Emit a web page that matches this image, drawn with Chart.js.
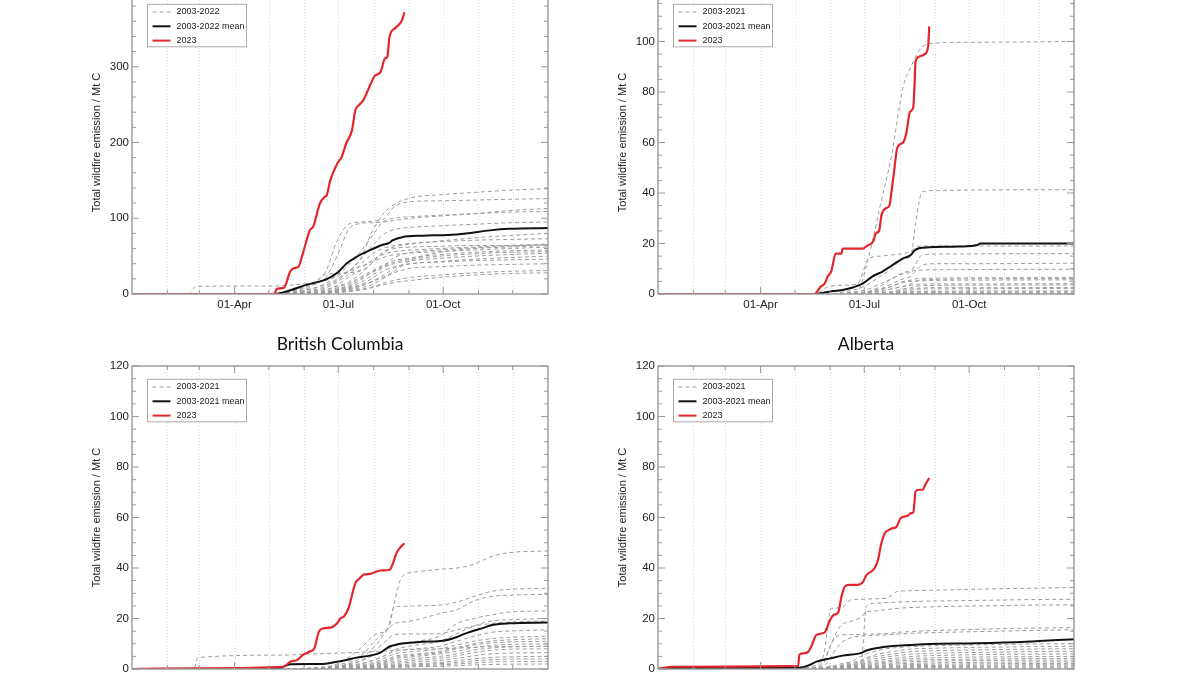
<!DOCTYPE html>
<html>
<head>
<meta charset="utf-8">
<script src="https://cdn.jsdelivr.net/npm/chart.js@4.4.0/dist/chart.umd.min.js"></script>
<style>
html, body { margin: 0; padding: 0; background: #fff; overflow: hidden; width: 1200px; height: 675px; }
canvas { position: absolute; }
</style>
</head>
<body>
<canvas id="cCanada" width="464" height="343" style="left:90px;top:-19px"></canvas>
<canvas id="cNwt" width="464" height="343" style="left:616px;top:-19px"></canvas>
<canvas id="cBc" width="464" height="365" style="left:90px;top:334px"></canvas>
<canvas id="cAb" width="464" height="365" style="left:616px;top:334px"></canvas>
<script>
// day of year (0 = 01-Jan)
const monthStarts = [31, 59, 90, 120, 151, 181, 212, 243, 273, 304, 334];
const xTickDays = [90, 181, 273];
const xTickLabels = ['01-Apr', '01-Jul', '01-Oct'];

//// Canada (top left)
const canRedDays = [0,125,127,133,139,142,146,150,156,159,165,169,171,174,180,184,188,193,196,199,203,209,213,218,222,224,226,231,235,237,239];
const canRed     = [0,0,7,8,30,34,36,54,84,89,120,128,131,150,172,181,199,216,243,249,256,276,288,293,311,313,340,351,357,362,372];
const canMeanDays = [0,126,139,153,168,175,181,188,197,209,220,225,229,237,255,277,293,314,331,365];
const canMean     = [0,0,5,12,18,23,29,40,49,58,65,67,71,75,77,78,80,84,86,87];
const canYearDays = [0,50,56,125,140,155,170,180,190,200,210,220,230,245,270,300,330,365];
const canYears = [
    [0,0,0,0,2,6,12,20,30,45,80,105,118,127,131,134,137,139],
    [0,0,0,1,4,12,30,70,92,95,96,98,115,122,123,124,125,126],
    [0,0,0,1,3,10,22,50,85,93,94,95,97,100,103,106,110,113],
    [0,0,0,0,2,6,14,25,38,55,75,95,100,102,104,106,108,109],
    [0,0,0,0,1,4,10,18,30,45,62,78,85,88,90,92,94,95],
    [0,0,0,0,2,8,26,27,28,30,40,55,62,66,70,74,77,80],
    [0,0,0,0,1,3,8,16,26,38,52,60,64,67,69,71,72,73],
    [0,0,0,0,1,2,5,12,22,32,44,52,56,58,60,62,64,66],
    [0,0,10,10.5,12,14,18,24,30,36,42,48,52,54,56,58,60,62],
    [0,0,0,0,1,2,4,8,14,22,30,38,44,48,52,55,57,58],
    [0,0,0,0,0,1,3,6,10,18,28,36,42,46,50,53,55,56],
    [0,0,0,0,0,1,2,5,9,15,24,34,40,44,47,50,52,54],
    [0,0,0,0,0,1,2,4,8,12,20,30,36,40,43,46,48,50],
    [0,0,0,0,0,1,2,4,6,10,16,24,34,40,42,44,45,46],
    [0,0,0,0,0,0,1,3,5,8,12,20,28,34,36,38,39,40],
    [0,0,0,0,0,0,1,2,4,6,9,14,18,22,25,28,30,31],
    [0,0,0,0,0,0,1,2,3,5,8,12,15,18,22,25,27,28],
    [0,0,0,0,0,1,3,6,12,20,28,36,48,55,58,61,63,65],
    [0,0,0,0,1,3,6,10,16,26,40,54,60,62,63,64,64,65],
    [0,0,0,0,0,1,2,4,7,11,16,22,30,45,55,60,62,64]
];

//// Northwest Territories (top right)
const nwtRedDays = [0,137,143,146,149,152,156,161,162,180,183,189,191,194,196,200,203,205,207,210,215,218,221,224,225,226,229,234,237,238];
const nwtRed     = [0,0,3,4,7,9,16,16,18,18,19,21,24,25,31,34,35,41,48,58,60,64,72,74,82,92,94,95,98,106];
const nwtMeanDays = [0,137,150,162,171,180,188,197,206,215,222,225,229,238,264,280,283,365];
const nwtMean     = [0,0,0.9,1.6,2.6,4.2,6.9,8.9,11.5,14.1,15.5,17.2,18.1,18.5,18.8,19.4,20,20];
const nwtYearDays = [0,137,150,165,175,185,195,205,215,222,226,232,245,280,365];
const nwtYears = [
    [0,0,0,0,1,15,35,55,82,90,94,98,99.4,99.7,100],
    [0,0,0,1,2,4,7,10,14,15,28,40.5,41,41.2,41.3],
    [0,0,3,3.5,4,14,15,15.5,16,17,18.5,19,19,19,19],
    [0,0,0,0.5,1,2,4,6,8,9,12,15.5,15.8,15.9,16],
    [0,0,0,0,0.5,1,2,4,6,7,9,11.5,12,12,12.2],
    [0,0,0,0,0.5,1,3,6,8.5,9,9.3,9.5,9.6,9.7,9.8],
    [0,0,0,0,0,1,2,3,5,5.5,6,6.2,6.3,6.4,6.5],
    [0,0,0,0,0,0.5,1,2,3,4,5,5.6,5.8,6,6.1],
    [0,0,0,0,0,0.5,1.5,3,4.5,5,5.2,5.3,5.4,5.5,5.6],
    [0,0,0,0,0,0.5,1,2,3,3.5,3.8,3.9,4,4,4.1],
    [0,0,0,0,0,0,0.5,1,2,2.5,3,3.3,3.4,3.5,3.6],
    [0,0,0,0,0,0,0.3,0.8,1.5,2,2.2,2.4,2.5,2.5,2.6],
    [0,0,0,0,0,0,0.2,0.5,1,1.5,1.8,2,2,2.1,2.2],
    [0,0,0,0,0,0,0,0.3,0.6,0.9,1,1.1,1.1,1.2,1.2],
    [0,0,0,0,0,0,0,0.2,0.4,0.6,0.7,0.8,0.8,0.8,0.9],
    [0,0,0,0,0,0,0,0.1,0.2,0.3,0.3,0.4,0.4,0.4,0.4],
    [0,0.2,0.2,0.2,0.2,0.2,0.2,0.2,0.3,0.3,0.3,0.3,0.3,0.3,0.3],
    [0,0,0,0,0,0,0,0,0.1,0.1,0.1,0.2,0.2,0.2,0.2],
    [0,0,0,0,0,0,0,0,0,0,0.1,0.1,0.1,0.1,0.1]
];

//// British Columbia (bottom left)
const bcRedDays = [0,60,133,139,145,150,156,160,164,168,175,180,183,186,190,196,199,203,209,218,226,229,232,235,239];
const bcRed     = [0,0.3,0.9,2.9,3.6,5.6,6.9,8.2,14.8,16.1,16.5,18.1,20.1,20.8,24.1,34,35.6,37.3,37.7,39,39.3,41.9,45.9,47.9,49.8];
const bcMeanDays = [0,130,139,168,180,188,197,209,218,226,234,244,255,273,282,293,307,317,331,365];
const bcMean     = [0,0.5,1.9,2,2.9,3.6,4.5,5.3,6.5,8.9,9.9,10.4,10.8,11.2,12.2,14.1,16.1,17.5,18.1,18.4];
const bcYearDays = [0,54,58,130,160,180,200,215,225,230,237,250,270,285,300,315,330,365];
const bcYears = [
    [0,0,0,0,0.5,2,8,14,16,26,36.6,38.5,39.5,40,41.5,44.5,46,46.8],
    [0,0,0,0,0.5,1.5,5,12,17,24.5,24.8,25,25.3,26.5,28.7,30.7,31.5,32],
    [0,0,0,0,0.3,1,4,10,16,18,18.5,19.5,22,23.5,27,28.7,29.2,29.6],
    [0,0,0,0,0.3,1,3,6,8,9,10,11,13,18,20,21.4,22.5,23],
    [0,0,0,0,0.2,1,2,4,6,7.5,8.5,9.5,11,14,17,19,19.5,20],
    [0,0,4.5,5.5,6,6.3,6.6,7,7.2,7.4,7.6,7.8,8,8.3,8.6,8.8,8.9,9],
    [0,0,0,0,0.3,1,3,8,12,13.7,13.8,13.9,14,15.5,17,18,18.6,19],
    [0,0,0,0,0.2,0.8,2,4,6,7,7.5,8,9,11,13,14.5,15,15.5],
    [0,0,0,0,0,0.5,1.5,3,5,6,6.5,7,8,9.5,11,12,12.5,13],
    [0,0,0,0,0,0.5,1,2.5,4,5,5.5,6,7,8.5,10,11,11.5,12],
    [0,0,0,0,0,0.3,1,2,3.5,4.5,5,5.5,6.5,8,9.5,10.3,10.7,11],
    [0,0,0,0,0,0.3,0.8,1.8,3,4,4.5,5,6,7,8.5,9.3,9.7,10],
    [0,0,0,0,0,0.2,0.6,1.5,2.5,3.2,3.7,4.2,5,6,7.5,8.3,8.7,9],
    [0,0,0,0,0,0.2,0.5,1.2,2,2.6,3,3.5,4.2,5.2,6.5,7.4,7.8,8],
    [0,0,0,0,0,0.1,0.4,1,1.6,2,2.4,2.8,3.4,4.2,5.2,6,6.3,6.5],
    [0,0,0,0,0,0.1,0.3,0.7,1.2,1.5,1.8,2.1,2.6,3.3,4,4.6,4.8,5],
    [0,0,0,0,0,0.1,0.2,0.5,0.9,1.2,1.4,1.7,2.1,2.6,3.2,3.7,3.9,4],
    [0,0,0,0,0,0,0.2,0.4,0.7,0.9,1.1,1.3,1.6,2,2.4,2.8,2.9,3],
    [0,0,0,0,0,0,0.1,0.3,0.5,0.6,0.7,0.9,1.1,1.3,1.6,1.8,1.9,2]
];

//// Alberta (bottom right)
const abRedDays = [0,13,123,124,127,132,135,139,146,151,154,158,161,164,168,175,180,183,187,190,193,196,199,202,206,209,213,219,222,224,226,229,232,235,238];
const abRed     = [0,0.9,1.2,5.6,6.2,6.9,9.5,13.5,14.4,19.4,21.4,22.3,28.7,32.7,33.3,33.3,34.6,37.3,38.6,39.9,43.2,49.8,53.8,54.9,55.8,56.2,59.8,60.7,61.7,62,70.3,71,71,73.4,75.6];
const abMeanDays = [0,10,124,133,139,151,162,177,183,191,206,221,238,279,323,365];
const abMean     = [0,0.4,0.5,1.6,2.9,4.2,5.3,6.2,7.3,8.2,9.1,9.5,9.9,10.2,10.8,11.8];
const abYearDays = [0,5,125,135,145,152,160,170,178,183,190,200,210,220,240,270,300,330,365];
const abYears = [
    [0,0.3,0.3,1,5,24,24.2,27.5,27.6,27.7,27.8,28,30.7,31,31.2,31.5,31.8,32,32.3],
    [0,0.3,0.3,0.4,0.6,0.8,1,1.5,2,25,26,26.3,26.5,26.7,26.9,27.1,27.3,27.5,27.6],
    [0,0.2,0.2,0.5,3,10,17,19,20.5,22.7,23,23.5,24,24.3,24.6,24.9,25.1,25.3,25.4],
    [0,0.2,0.2,0.5,2,10,13.5,13.6,13.7,13.8,13.9,14,14.5,14.8,15.2,15.6,16,16.2,16.4],
    [0,0.2,0.2,0.4,1,5,10,12.5,13,13.2,13.4,13.5,13.8,14.1,14.4,14.7,15,15.3,15.5],
    [0,0.2,0.2,0.3,0.5,1,2,3,5,6,7,8,8.5,8.8,9.2,9.5,9.7,9.9,10],
    [0,0.1,0.1,0.2,0.4,0.8,1.5,2.5,3.5,4.5,5.5,6.5,7.2,7.8,8.2,8.5,8.7,8.9,9],
    [0,0.1,0.1,0.2,0.3,0.6,1.2,2,3,4,4.8,5.5,6.2,6.8,7.2,7.5,7.7,7.9,8],
    [0,0.1,0.1,0.2,0.3,0.5,1,1.7,2.5,3.3,4,4.7,5.3,5.8,6.2,6.5,6.7,6.9,7],
    [0,0.1,0.1,0.1,0.2,0.4,0.8,1.4,2,2.7,3.3,3.9,4.4,4.9,5.3,5.6,5.8,5.9,6],
    [0,0.1,0.1,0.1,0.2,0.3,0.6,1.1,1.6,2.2,2.7,3.2,3.7,4.1,4.4,4.7,4.8,4.9,5],
    [0,0,0,0.1,0.1,0.2,0.5,0.9,1.3,1.8,2.2,2.7,3.1,3.4,3.7,3.9,4,4.1,4.2],
    [0,0,0,0.1,0.1,0.2,0.4,0.7,1,1.4,1.8,2.2,2.5,2.8,3.1,3.3,3.4,3.5,3.5],
    [0,0,0,0,0.1,0.2,0.3,0.5,0.8,1.1,1.4,1.7,2,2.2,2.4,2.6,2.7,2.8,2.8],
    [0,0,0,0,0.1,0.1,0.2,0.4,0.6,0.9,1.1,1.3,1.5,1.7,1.9,2,2.1,2.2,2.2],
    [0,0,0,0,0,0.1,0.2,0.3,0.5,0.7,0.8,1,1.2,1.3,1.4,1.5,1.6,1.7,1.7],
    [0,0,0,0,0,0.1,0.1,0.2,0.3,0.5,0.6,0.7,0.8,0.9,1,1.1,1.1,1.2,1.2],
    [0,0,0,0,0,0,0.1,0.1,0.2,0.3,0.4,0.5,0.5,0.6,0.7,0.7,0.8,0.8,0.8],
    [0,0,0,0,0,0,0,0.1,0.1,0.2,0.2,0.3,0.3,0.3,0.4,0.4,0.4,0.4,0.4]
];

const legend2022 = ['2003-2022', '2003-2022 mean', '2023'];
const legend2021 = ['2003-2021', '2003-2021 mean', '2023'];

const RED = '#e2262b', BLACK = '#111111', GREY = '#9c9c9c';
const FONT = "'Liberation Sans', Arial, Helvetica, sans-serif";

function toPoints(days, vals) {
    return days.map((d, i) => ({x: d, y: vals[i]}));
}

// frame, inward ticks, month grid and boxed legend drawn on the chart area
const frameTicks = {
    id: 'frameTicks',
    beforeDatasetsDraw(chart) {
        const {ctx, chartArea: a} = chart;
        const x = chart.scales.x;
        ctx.save();
        ctx.strokeStyle = '#dadada';
        ctx.lineWidth = 1;
        ctx.setLineDash([1, 2]);
        for (let d of monthStarts) {
            let px = Math.round(x.getPixelForValue(d)) + 0.5;
            ctx.beginPath(); ctx.moveTo(px, a.top); ctx.lineTo(px, a.bottom); ctx.stroke();
        }
        ctx.restore();
    },
    afterDatasetsDraw(chart, args, opts) {
        const {ctx, chartArea: a} = chart;
        const x = chart.scales.x, y = chart.scales.y;
        ctx.save();
        ctx.strokeStyle = '#999';
        ctx.lineWidth = 1.4;
        ctx.setLineDash([]);
        ctx.strokeRect(a.left, a.top, a.right - a.left, a.bottom - a.top);
        ctx.lineWidth = 1;
        for (let v = 0; v <= y.max; v += opts.yMinor) {
            let py = y.getPixelForValue(v);
            let len = (v % opts.yMajor == 0) ? 7 : 4;
            ctx.beginPath();
            ctx.moveTo(a.left, py); ctx.lineTo(a.left + len, py);
            ctx.moveTo(a.right, py); ctx.lineTo(a.right - len, py);
            ctx.stroke();
        }
        for (let d of monthStarts) {
            let px = x.getPixelForValue(d);
            let len = xTickDays.includes(d) ? 7 : 4;
            ctx.beginPath();
            ctx.moveTo(px, a.bottom); ctx.lineTo(px, a.bottom - len);
            ctx.moveTo(px, a.top); ctx.lineTo(px, a.top + len);
            ctx.stroke();
        }

        // legend box
        const lx = a.left + 15.5, ly = a.top + 13.3;
        ctx.fillStyle = '#fff';
        ctx.fillRect(lx, ly, 99, 42.5);
        ctx.strokeStyle = '#aaa';
        ctx.lineWidth = 1;
        ctx.strokeRect(lx, ly, 99, 42.5);
        const styles = [[GREY, 1, [4, 3]], [BLACK, 2, []], [RED, 2, []]];
        ctx.font = '9px ' + FONT;
        ctx.textBaseline = 'middle';
        for (let i = 0; i < 3; i++) {
            let ry = ly + 7.7 + i * 14.3;
            ctx.strokeStyle = styles[i][0];
            ctx.lineWidth = styles[i][1];
            ctx.setLineDash(styles[i][2]);
            ctx.beginPath(); ctx.moveTo(lx + 5, ry); ctx.lineTo(lx + 23, ry); ctx.stroke();
            ctx.fillStyle = '#222';
            ctx.fillText(opts.labels[i], lx + 29, ry);
        }
        ctx.restore();
    }
};

function makePanel(id, p) {
    let datasets = [];
    datasets.push({data: toPoints(p.redDays, p.red), borderColor: RED, borderWidth: 2.2});
    datasets.push({data: toPoints(p.meanDays, p.mean), borderColor: BLACK, borderWidth: 2});
    for (let yr of p.years) {
        datasets.push({data: toPoints(p.yearDays, yr), borderColor: GREY, borderWidth: 1, borderDash: [4, 3]});
    }

    new Chart(document.getElementById(id), {
        type: 'line',
        data: {datasets: datasets},
        options: {
            responsive: false,
            animation: false,
            layout: {padding: {top: p.title ? 0 : 10, right: 6, left: 0, bottom: 0}},
            elements: {
                point: {radius: 0},
                line: {cubicInterpolationMode: 'monotone', fill: false}
            },
            scales: {
                x: {
                    type: 'linear', min: 0, max: 365,
                    grid: {display: false, drawTicks: false},
                    border: {display: false},
                    afterBuildTicks: (scale) => { scale.ticks = xTickDays.map(v => ({value: v})); },
                    afterFit: (scale) => { scale.height = 30; },
                    ticks: {
                        autoSkip: false, maxRotation: 0, padding: 4, color: '#222',
                        font: {family: FONT, size: 11.5},
                        callback: (v) => xTickLabels[xTickDays.indexOf(v)]
                    }
                },
                y: {
                    min: 0, max: p.yMax,
                    grid: {display: false, drawTicks: false},
                    border: {display: false},
                    afterFit: (scale) => { scale.width = 42; },
                    ticks: {stepSize: p.yMajor, padding: 3, color: '#222', font: {family: FONT, size: 11.5}},
                    title: {display: true, text: 'Total wildfire emission / Mt C', color: '#222',
                            padding: 0, font: {family: FONT, size: 11}}
                }
            },
            plugins: {
                legend: {display: false},
                tooltip: {enabled: false},
                title: {
                    display: !!p.title, text: p.title || '', fullSize: false, color: '#111',
                    font: {family: "Lato, 'Open Sans', sans-serif", size: 17.5, weight: 'normal'},
                    padding: {top: 0, bottom: 11}
                },
                frameTicks: {yMinor: p.yMinor, yMajor: p.yMajor, labels: p.labels}
            }
        },
        plugins: [frameTicks]
    });
}

makePanel('cCanada', {redDays: canRedDays, red: canRed, meanDays: canMeanDays, mean: canMean,
    yearDays: canYearDays, years: canYears, yMax: 400, yMajor: 100, yMinor: 20, labels: legend2022});
makePanel('cNwt', {redDays: nwtRedDays, red: nwtRed, meanDays: nwtMeanDays, mean: nwtMean,
    yearDays: nwtYearDays, years: nwtYears, yMax: 120, yMajor: 20, yMinor: 5, labels: legend2021});
makePanel('cBc', {redDays: bcRedDays, red: bcRed, meanDays: bcMeanDays, mean: bcMean,
    yearDays: bcYearDays, years: bcYears, yMax: 120, yMajor: 20, yMinor: 5, labels: legend2021,
    title: 'British Columbia'});
makePanel('cAb', {redDays: abRedDays, red: abRed, meanDays: abMeanDays, mean: abMean,
    yearDays: abYearDays, years: abYears, yMax: 120, yMajor: 20, yMinor: 5, labels: legend2021,
    title: 'Alberta'});
</script>
</body>
</html>
